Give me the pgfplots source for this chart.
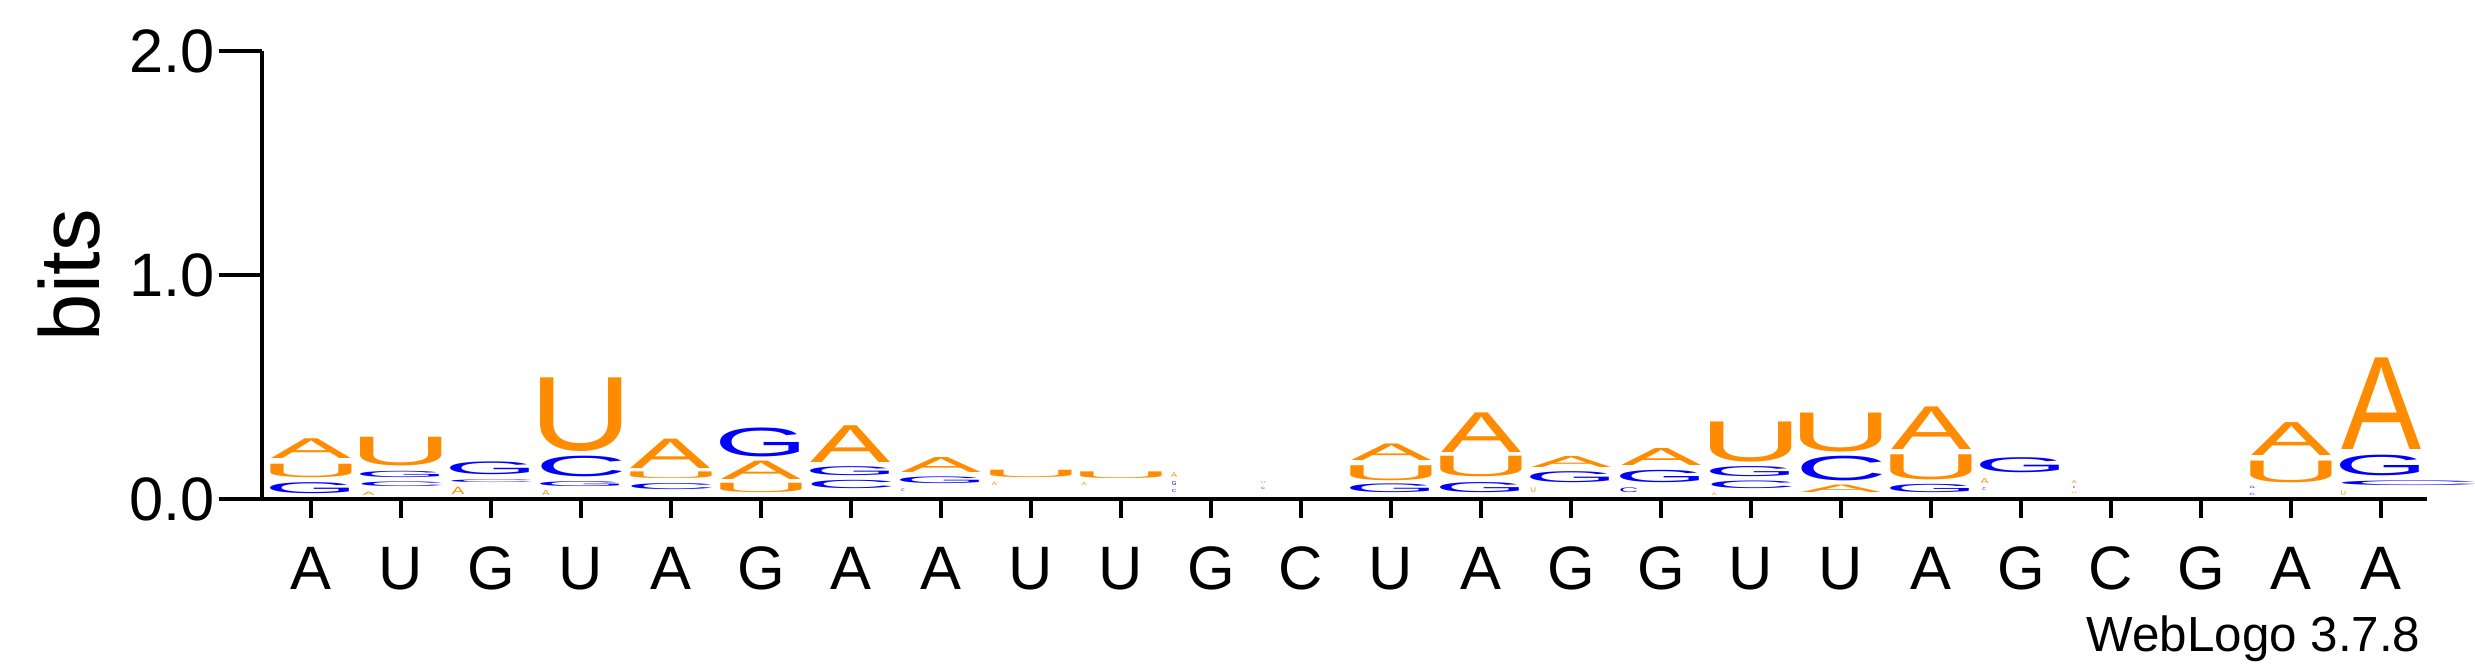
\documentclass[border=0pt]{standalone}
\usepackage{fontspec}
\setmainfont{Liberation Sans}
\usepackage{graphicx}
\usepackage{xcolor}
\usepackage{pgfplots}
\usepackage{pgfplotstable}
\pgfplotsset{compat=1.18}
\definecolor{lcA}{HTML}{FF8C00}
\definecolor{lcU}{HTML}{FF8C00}
\definecolor{lcG}{HTML}{0000FF}
\definecolor{lcC}{HTML}{0000FF}
\def\lwA{0.996}\def\lwU{1.283}\def\lwG{1.165}\def\lwC{1.141}
\newlength\bitlen \setlength\bitlen{67.2pt}
\newlength\letterw \setlength\letterw{24.15pt}
\newlength\lwd \newlength\lht
\newcommand\logoletter[3]{%
  \edef\thelet{#1}%
  \pgfmathsetlength\lwd{#2*\csname lw\thelet\endcsname*\letterw}%
  \pgfmathsetlength\lht{#3*\bitlen}%
  \textcolor{lc\thelet}{\resizebox*{\lwd}{\lht}{\thelet}}}
\pgfplotstableread{
x b h w L
1 0.022 0.049 1 G
1 0.097 0.060 1 U
1 0.180 0.088 1 A
1.641 0.015 0.016 0.15 A
2 0.055 0.021 1 C
2 0.094 0.028 1 G
2 0.149 0.128 1 U
2.633 0.018 0.033 0.16 A
3 0.070 0.012 1 C
3 0.107 0.057 1 G
3.609 0.015 0.022 0.095 A
4 0.055 0.022 1 G
4 0.100 0.092 1 C
4 0.211 0.329 1 U
5 0.043 0.027 1 C
5 0.092 0.030 1 U
5 0.137 0.131 1 A
6 0.028 0.042 1 U
6 0.088 0.082 1 A
6 0.189 0.129 1 G
7 0.046 0.037 1 C
7 0.103 0.040 1 G
7 0.162 0.164 1 A
7.577 0.033 0.012 0.04 C
8 0.067 0.030 1 G
8 0.118 0.067 1 A
8.592 0.060 0.015 0.065 A
9 0.097 0.033 1 U
9.589 0.060 0.013 0.065 A
10 0.091 0.030 1 U
10.59 0.028 0.013 0.05 C
10.59 0.060 0.018 0.05 G
10.59 0.095 0.021 0.075 A
11.58 0.040 0.010 0.04 C
11.58 0.067 0.009 0.05 U
13 0.028 0.039 1 G
13 0.082 0.067 1 U
13 0.171 0.074 1 A
14 0.028 0.045 1 G
14 0.097 0.092 1 U
14 0.207 0.177 1 A
14.58 0.028 0.022 0.056 U
15 0.071 0.049 1 G
15 0.140 0.049 1 A
15.64 0.028 0.021 0.21 C
16 0.074 0.055 1 G
16 0.149 0.076 1 A
16.59 0.016 0.012 0.06 A
17 0.046 0.034 1 C
17 0.098 0.045 1 G
17 0.167 0.179 1 U
18 0.031 0.033 1 A
18 0.082 0.110 1 C
18 0.211 0.174 1 U
19 0.028 0.037 1 G
19 0.085 0.112 1 U
19 0.219 0.190 1 A
19.59 0.037 0.013 0.04 C
19.594 0.070 0.022 0.095 A
20 0.118 0.067 1 G
20.59 0.022 0.007 0.05 U
20.59 0.046 0.009 0.03 C
20.59 0.067 0.013 0.065 A
22.57 0.015 0.010 0.055 C
22.57 0.045 0.010 0.055 G
23 0.074 0.097 1 U
23 0.193 0.147 1 A
23.58 0.015 0.021 0.05 U
24.294 0.060 0.021 1.66 C
24 0.104 0.092 1 G
24 0.222 0.409 1 A
}\logodata
\begin{document}
\begin{tikzpicture}
\begin{axis}[name=ax, scale only axis, width=649.5pt, height=134.4pt,
  xmin=0.455, xmax=24.51, ymin=0, ymax=2,
  axis x line*=bottom, axis y line*=left,
  axis line style={line width=1.4pt, black},
  tick align=outside,
  every tick/.style={black, line width=1.4pt},
  major tick length=5.8pt, minor tick length=6.8pt,
  xtick={1,...,24},
  xticklabels={A,U,G,U,A,G,A,A,U,U,G,C,U,A,G,G,U,U,A,G,C,G,A,A},
  xticklabel style={anchor=north, inner sep=0pt, yshift=-8.4pt},
  ytick=\empty,
  minor ytick={0.2,0.4,0.6,0.8,1.2,1.4,1.6,1.8},
  extra y ticks={0,1,2}, extra y tick labels={0.0,1.0,2.0},
  extra y tick style={major tick length=13pt,
    yticklabel style={anchor=east, inner sep=0pt, xshift=-1pt}},
  tick label style={font=\fontsize{18.4}{20}\selectfont},
  ylabel={bits},
  every axis y label/.style={at={([xshift=-48.6pt]axis description cs:0,0.5)}, rotate=90, anchor=base, font=\fontsize{25.5}{28}\selectfont},
  clip=false]
\addplot[only marks, mark=none, point meta=explicit symbolic,
  visualization depends on={\thisrow{h}\as\hval},
  visualization depends on={\thisrow{w}\as\wval},
  nodes near coords={\logoletter{\pgfplotspointmeta}{\wval}{\hval}},
  every node near coord/.style={anchor=south, inner sep=0pt, outer sep=0pt}]
  table[x=x, y=b, meta=L] {\logodata};
\end{axis}
\node[anchor=base east, font=\fontsize{14.8}{16}\selectfont, inner sep=0pt] at ([xshift=-1.8pt,yshift=-45.9pt]ax.south east) {WebLogo 3.7.8};
\pgfresetboundingbox
\path[use as bounding box] ([shift={(-78.6pt,-50.4pt)}]ax.south west) rectangle ([shift={(14.4pt,15.3pt)}]ax.north east);
\end{tikzpicture}
\end{document}
